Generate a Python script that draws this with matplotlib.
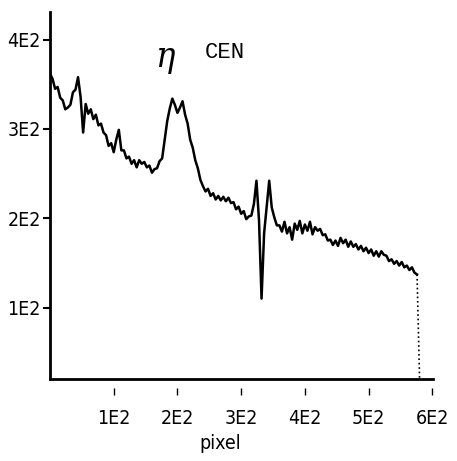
#!/usr/bin/env python3
"""Spectrum of eta Cen against detector pixel."""

import numpy as np
import matplotlib.pyplot as plt
from matplotlib.transforms import blended_transform_factory

# detector pixel, sampled every 4 pixels
pixel = np.arange(0, 584, 4)
flux = [362, 356, 345, 347, 335, 332, 322, 324, 327, 341,
        344, 358, 336, 296, 328, 317, 322, 311, 316, 304,
        306, 296, 293, 281, 284, 274, 288, 299, 276, 276,
        267, 269, 261, 265, 257, 265, 261, 263, 257, 259,
        251, 255, 256, 264, 267, 288, 309, 323, 334, 327,
        318, 324, 331, 316, 306, 288, 279, 265, 256, 243,
        236, 230, 233, 225, 228, 221, 225, 220, 224, 219,
        223, 217, 218, 210, 213, 205, 208, 199, 202, 203,
        216, 242, 198, 110, 183, 213, 242, 212, 201, 192,
        192, 185, 196, 183, 190, 176, 194, 187, 197, 183,
        193, 186, 196, 182, 190, 186, 188, 181, 182, 175,
        176, 170, 175, 169, 178, 172, 176, 168, 174, 168,
        171, 165, 169, 163, 167, 161, 165, 158, 163, 157,
        163, 159, 158, 152, 154, 149, 152, 147, 151, 145,
        147, 142, 145, 139, 137, 20]

x_ticks = [100, 200, 300, 400, 500, 600]
x_labels = ['1E2', '2E2', '3E2', '4E2', '5E2', '6E2']
y_ticks = [100, 200, 300, 400]
y_labels = ['1E2', '2E2', '3E2', '4E2']

plt.rcParams['font.family'] = ['DejaVu Sans']
plt.rcParams['font.stretch'] = 'condensed'

fig = plt.figure(figsize=(4.57, 4.61), dpi=100)
ax = fig.add_axes([0.1094, 0.178, 0.838, 0.796])

ax.plot(pixel[:-1], flux[:-1], color='black', lw=1.8)
ax.plot(pixel[-2:], flux[-2:], color='black', lw=1.2, ls=':')

ax.set_xlim(0, 601)
ax.set_ylim(20, 431)

for side in ['top', 'right']:
    ax.spines[side].set_visible(False)
for side in ['left', 'bottom']:
    ax.spines[side].set_linewidth(2)

ax.set_xticks(x_ticks)
ax.set_xticklabels(x_labels, fontsize=14)
ax.tick_params(axis='x', length=0, pad=22)
ax.set_yticks(y_ticks)
ax.set_yticklabels(y_labels, fontsize=14)
ax.tick_params(axis='y', length=5, width=1.5, pad=1.5)

# x tick marks sit detached below the axis line
trans = blended_transform_factory(ax.transData, ax.transAxes)
ax.vlines(x_ticks, -0.044, -0.025, transform=trans, color='black', lw=1, clip_on=False)

fig.text(0.481, 0.037, 'pixel', fontsize=14, ha='center', va='center')

fig.text(0.36, 0.876, '\u03b7', fontsize=26, family='DejaVu Serif', style='italic',
         ha='center', va='center')
fig.text(0.493, 0.887, 'CEN', fontsize=16, family='Liberation Mono', ha='center', va='center')

fig.savefig('out.png', dpi=100)
